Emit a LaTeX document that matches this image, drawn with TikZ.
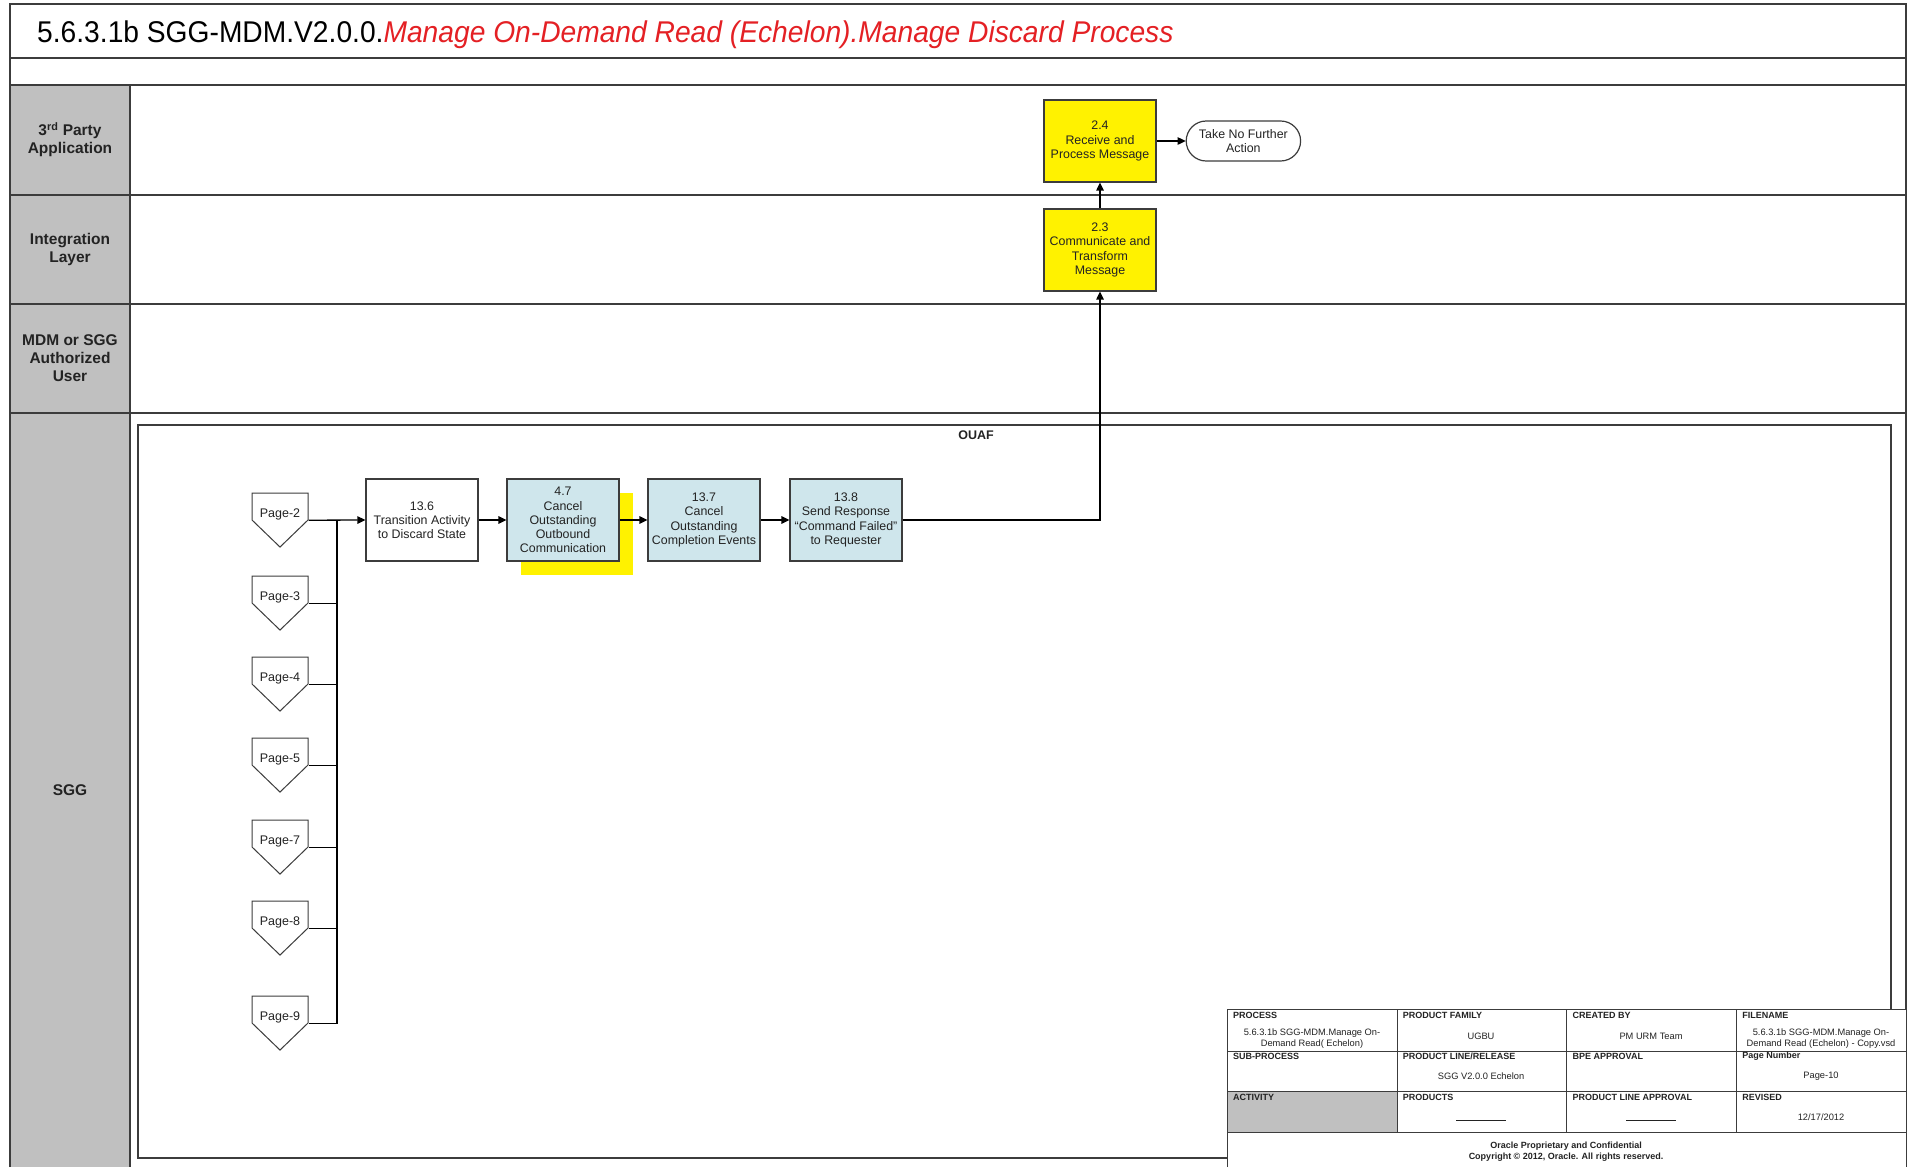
\documentclass[tikz,border=0pt]{standalone}
\usepackage{fontspec}
\setmainfont{Liberation Sans}
\newfontfamily\titlefont[FakeStretch=0.94]{Liberation Sans}
\usetikzlibrary{positioning,arrows.meta,shapes.symbols,shapes.misc,shadows,calc}

\definecolor{lanegray}{RGB}{192,192,192}
\definecolor{boxblue}{RGB}{207,230,236}
\definecolor{titlered}{RGB}{228,32,36}
\definecolor{linegray}{RGB}{60,60,60}
\definecolor{textgray}{RGB}{35,35,35}

\tikzset{
  lane/.style={font=\fontsize{15.5}{18}\selectfont\bfseries, align=center, text=textgray},
  task/.style={draw=linegray, line width=1.2pt, minimum width=112pt, minimum height=82pt,
    align=center, inner sep=2pt, font=\fontsize{12.4}{14.2}\selectfont, text=textgray},
  bluetask/.style={task, fill=boxblue},
  yellowtask/.style={task, fill=yellow},
  endpoint/.style={draw=linegray, line width=1.2pt, rounded rectangle, minimum width=112pt,
    minimum height=40pt, inner xsep=9pt, align=center, font=\fontsize{12.4}{14.2}\selectfont, text=textgray},
  pageref/.style={draw=linegray, line width=1pt, fill=white, signal, signal to=south,
    signal pointer angle=92, minimum width=56pt, inner xsep=0pt, inner ysep=0pt,
    text height=24.5pt, text depth=2.5pt, anchor=base,
    font=\fontsize{12.5}{14}\selectfont, text=textgray},
  flow/.style={line width=1.3pt, -{Triangle[length=8pt,width=7.5pt]}},
  link/.style={line width=1.3pt},
  frameline/.style={draw=linegray, line width=1.5pt},
  hdr/.style={font=\fontsize{9}{11}\selectfont\bfseries, anchor=west, inner sep=0pt, text=textgray},
  cell/.style={font=\fontsize{9.3}{11}\selectfont, align=center, inner sep=0pt, text=textgray},
}

\begin{document}
\begin{tikzpicture}[x=1pt,y=-1pt]
\useasboundingbox (0,0) rectangle (1911,1167);
\fill[white] (0,0) rectangle (1911,1167);
\fill[lanegray] (10,85) rectangle (130,1167);
\draw[frameline] (10,1167) -- (10,4) -- (1906,4) -- (1906,1167);
\foreach \y in {58,85,195,304,413}
  \draw[frameline] (10,\y) -- (1906,\y);
\draw[frameline] (130,85) -- (130,1167);

\node[anchor=base west, inner sep=0pt, font=\titlefont\fontsize{30}{34}\selectfont] (title) at (37,42)
  {5.6.3.1b SGG-MDM.V2.0.0.\textcolor{titlered}{\itshape Manage On-Demand Read (Echelon).Manage Discard Process}};

\node[lane] (lparty) at (70,140) {3\textsuperscript{rd} Party\\Application};
\node[lane] (lint) at (70,249) {Integration\\Layer};
\node[lane] (lmdm) at (70,358) {MDM or SGG\\Authorized\\User};
\node[lane] (lsgg) at (70,790) {SGG};

\draw[draw=linegray, line width=1.8pt] (138,425) rectangle (1891,1158);
\node[font=\fontsize{12.5}{14}\selectfont\bfseries, text=textgray] (ouaf) at (976,435) {OUAF};

\node[task] (t136) at (422,520) {13.6\\Transition Activity\\to Discard State};
\node[bluetask, general shadow={fill=yellow, shadow xshift=14pt, shadow yshift=-14pt}] (t47) at (563,520)
  {4.7\\Cancel\\Outstanding\\Outbound\\Communication};
\node[bluetask] (t137) at (704,520) {13.7\\Cancel\\Outstanding\\Completion Events};
\node[bluetask] (t138) at (846,520) {13.8\\Send Response\\“Command Failed”\\to Requester};
\node[yellowtask] (t23) at (1100,250) {2.3\\Communicate and\\Transform\\Message};
\node[yellowtask] (t24) at (1100,141) {2.4\\Receive and\\Process Message};
\node[endpoint, right=29pt of t24] (tnfa) {Take No Further\\Action};

\foreach \n/\y in {2/517.5,3/600.5,4/681.5,5/762.5,7/844.5,8/925.5,9/1020.5}
  \node[pageref] (pg\n) at (280,\y) {Page-\n};

\coordinate (bus) at ($(pg2.south east)!.5!(t136.west)$);
\draw[flow] (pg2.south east) -- (t136.west);
\foreach \n in {3,4,5,7,8,9}
  \draw[link] (pg\n.south east) -| (bus);
\draw[flow] (t136) -- (t47);
\draw[flow] (t47) -- (t137);
\draw[flow] (t137) -- (t138);
\draw[flow] (t138.east) -| (t23.south);
\draw[flow] (t23) -- (t24);
\draw[flow] (t24) -- (tnfa);

\fill[white] (1227,1009) rectangle (1906,1167);
\fill[lanegray] (1227,1091) rectangle (1397,1132);
\draw[line width=1pt, draw=linegray] (1227,1167) -- (1227,1009) -- (1906,1009) -- (1906,1167);
\foreach \x in {1397,1566,1736}
  \draw[line width=1pt, draw=linegray] (\x,1009) -- (\x,1132);
\foreach \y in {1051,1091,1132}
  \draw[line width=1pt, draw=linegray] (1227,\y) -- (1906,\y);

\foreach \t [count=\i] in {PROCESS,PRODUCT FAMILY,CREATED BY,FILENAME}
  \node[hdr] (ha\i) at ({1233+169.75*(\i-1)},1015) {\t};
\foreach \t [count=\i] in {SUB-PROCESS,PRODUCT LINE/RELEASE,BPE APPROVAL,Page Number}
  \node[hdr] (hb\i) at ({1233+169.75*(\i-1)},1056) {\t};
\foreach \t [count=\i] in {ACTIVITY,PRODUCTS,PRODUCT LINE APPROVAL,REVISED}
  \node[hdr] (hc\i) at ({1233+169.75*(\i-1)},1097) {\t};

\node[cell] (cprocess) at (1312,1039) {5.6.3.1b SGG-MDM.Manage On-\\Demand Read( Echelon)};
\node[cell] (cfamily) at (1481,1036) {UGBU};
\node[cell] (cauthor) at (1651,1036) {PM URM Team};
\node[cell] (cfile) at (1821,1039) {5.6.3.1b SGG-MDM.Manage On-\\Demand Read (Echelon) - Copy.vsd};
\node[cell] (crelease) at (1481,1076) {SGG V2.0.0 Echelon};
\node[cell] (cpage) at (1821,1076) {Page-10};
\node[cell] (cproducts) at (1481,1120) {\rule{50pt}{0.7pt}};
\node[cell] (capproval) at (1651,1120) {\rule{50pt}{0.7pt}};
\node[cell] (crevised) at (1821,1117) {12/17/2012};
\node[cell, font=\fontsize{9}{11}\selectfont\bfseries] (cconf) at (1566,1151.5)
  {Oracle Proprietary and Confidential\\Copyright © 2012, Oracle. All rights reserved.};
\end{tikzpicture}
\end{document}
